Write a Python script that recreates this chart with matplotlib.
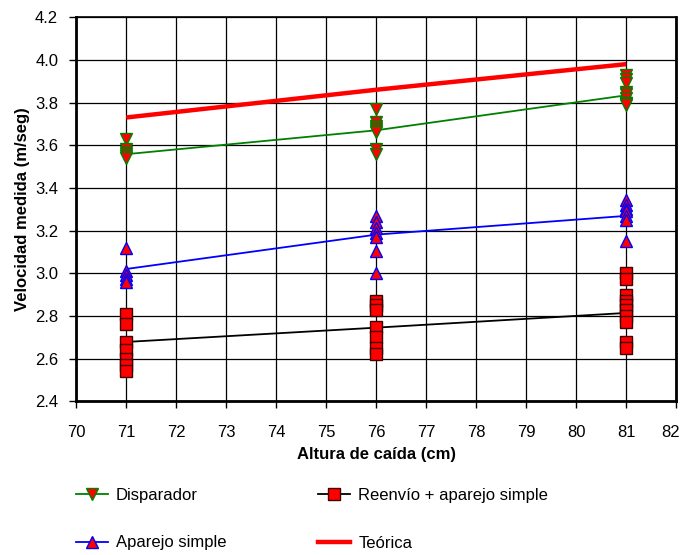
import matplotlib
matplotlib.use("Agg")
import matplotlib.pyplot as plt
import matplotlib.transforms as mtransforms
from matplotlib.lines import Line2D

plt.rcParams['font.family'] = ['Liberation Sans', 'DejaVu Sans']

# Alturas de caída (cm)
alturas = [71, 76, 81]

# Mediciones individuales por altura
disparador = {
    71: [3.63, 3.58, 3.57, 3.56, 3.55, 3.54],
    76: [3.77, 3.71, 3.69, 3.68, 3.67, 3.66, 3.58, 3.56],
    81: [3.93, 3.91, 3.89, 3.85, 3.84, 3.82, 3.80, 3.80, 3.79],
}
aparejo = {
    71: [3.12, 3.01, 2.99, 2.975, 2.96],
    76: [3.27, 3.24, 3.21, 3.19, 3.17, 3.105, 3.00],
    81: [3.345, 3.32, 3.30, 3.29, 3.27, 3.25, 3.15],
}
reenvio = {
    71: [2.81, 2.76, 2.68, 2.64, 2.60, 2.57, 2.54],
    76: [2.87, 2.85, 2.83, 2.75, 2.70, 2.65, 2.62],
    81: [3.00, 2.975, 2.90, 2.87, 2.85, 2.83, 2.80, 2.77, 2.68, 2.65],
}

# Valores medios (líneas)
disparador_media = [3.558, 3.670, 3.834]
aparejo_media = [3.020, 3.181, 3.269]
reenvio_media = [2.678, 2.745, 2.814]
teorica = [3.73, 3.86, 3.98]

fig = plt.figure(figsize=(6.81, 5.55), dpi=100)
ax = fig.add_axes([0.112, 0.277, 0.881, 0.692])

ms = 8.5
series = [
    (disparador, disparador_media, 'green', 'v', 'green', 'Disparador'),
    (aparejo, aparejo_media, 'blue', '^', 'blue', 'Aparejo simple'),
    (reenvio, reenvio_media, 'black', 's', '#400000', 'Reenvío + aparejo simple'),
]
handles = {}
for datos, media, lc, mk, ec, name in series:
    ax.plot(alturas, media, color=lc, lw=1.3, zorder=3)
    for h in alturas:
        ax.plot([h] * len(datos[h]), datos[h], linestyle='none', marker=mk,
                ms=ms, mfc='red', mec=ec, mew=1.0, zorder=4)
    handles[name] = Line2D([], [], color=lc, lw=1.3, marker=mk, ms=ms,
                           mfc='red', mec=ec, mew=1.0)

ax.plot(alturas, teorica, color='red', lw=3.2, solid_capstyle='butt', zorder=5)
handles['Teórica'] = Line2D([], [], color='red', lw=3.2)

ax.set_xlim(70, 82)
ax.set_ylim(2.4, 4.2)
ax.set_xticks(range(70, 83))
ax.set_yticks([2.4 + 0.2 * i for i in range(10)])
ax.set_yticklabels([f"{2.4 + 0.2 * i:.1f}" for i in range(10)])
ax.grid(True, color='black', lw=0.9)
ax.set_axisbelow(True)
for s in ax.spines.values():
    s.set_linewidth(2)
ax.spines['top'].set_linewidth(1.2)
ax.tick_params(direction='out', length=5, width=1, labelsize=12)
ax.tick_params(axis='x', pad=12)
ax.tick_params(axis='y', pad=8)

# shift the last x tick label a bit left so it stays inside the figure
lbl = ax.get_xticklabels()[-1]
lbl.set_transform(lbl.get_transform() +
                  mtransforms.ScaledTranslation(-6 / 100, 0, fig.dpi_scale_trans))

ax.set_xlabel('Altura de caída (cm)', fontsize=12, fontweight='bold', labelpad=5)
ax.set_ylabel('Velocidad medida (m/seg)', fontsize=12, fontweight='bold', labelpad=4)

order = ['Disparador', 'Aparejo simple', 'Reenvío + aparejo simple', 'Teórica']
fig.legend([handles[k] for k in order], order, ncol=2, frameon=False,
           loc='upper left', bbox_to_anchor=(76 / 681, 1 - 488 / 555),
           fontsize=12, borderpad=0, borderaxespad=0,
           handlelength=1.9, handletextpad=0.5, columnspacing=5.5,
           labelspacing=1.95)

fig.savefig('out.png', dpi=100)
